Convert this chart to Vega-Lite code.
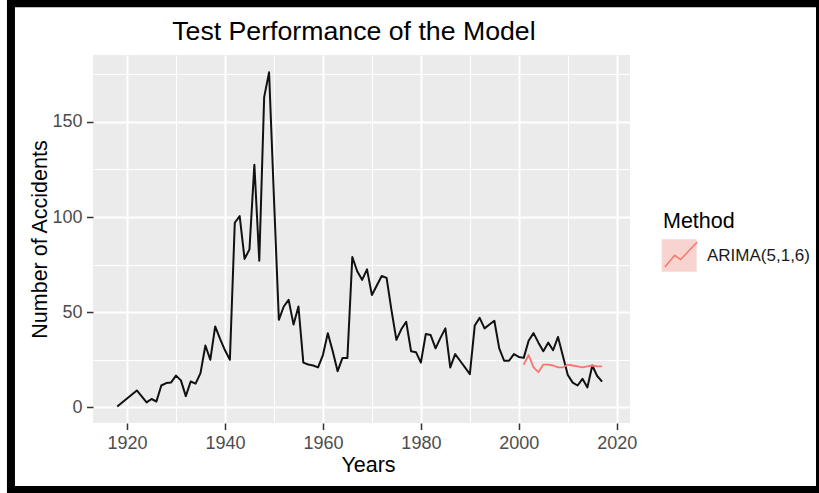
{
  "$schema": "https://vega.github.io/schema/vega-lite/v6.json",
  "width": 537,
  "height": 368,
  "autosize": {"type": "none"},
  "padding": {"left": 93, "top": 55, "right": 189, "bottom": 70},
  "background": "white",
  "config": {"view": {"fill": "#EBEBEB", "stroke": null}, "font": "Liberation Sans"},
  "title": {"text": "Test Performance of the Model", "fontSize": 26.7, "font": "Liberation Sans", "fontWeight": "normal", "color": "#000000", "anchor": "middle", "frame": "group", "baseline": "alphabetic", "offset": 0, "dy": 67.3, "dx": -7.6},
  "datasets": {
    "actual": [
      {"Year":1918,"Accidents":0.5},{"Year":1919,"Accidents":2.6},{"Year":1920,"Accidents":4.7},{"Year":1921,"Accidents":6.8},{"Year":1922,"Accidents":8.9},
      {"Year":1923,"Accidents":5.8},{"Year":1924,"Accidents":2.6},{"Year":1925,"Accidents":4.4},{"Year":1926,"Accidents":3.1},{"Year":1927,"Accidents":11.5},
      {"Year":1928,"Accidents":12.8},{"Year":1929,"Accidents":13.1},{"Year":1930,"Accidents":16.7},{"Year":1931,"Accidents":14.2},{"Year":1932,"Accidents":5.9},
      {"Year":1933,"Accidents":13.6},{"Year":1934,"Accidents":12.5},{"Year":1935,"Accidents":18},{"Year":1936,"Accidents":32.5},{"Year":1937,"Accidents":25},
      {"Year":1938,"Accidents":42.5},{"Year":1939,"Accidents":36},{"Year":1940,"Accidents":30},{"Year":1941,"Accidents":25},{"Year":1942,"Accidents":97},
      {"Year":1943,"Accidents":100.5},{"Year":1944,"Accidents":78},{"Year":1945,"Accidents":83},{"Year":1946,"Accidents":127.5},{"Year":1947,"Accidents":77},
      {"Year":1948,"Accidents":163},{"Year":1949,"Accidents":176},{"Year":1950,"Accidents":110},{"Year":1951,"Accidents":46},{"Year":1952,"Accidents":53},
      {"Year":1953,"Accidents":56.5},{"Year":1954,"Accidents":43.5},{"Year":1955,"Accidents":53},{"Year":1956,"Accidents":23.5},{"Year":1957,"Accidents":22.5},
      {"Year":1958,"Accidents":22},{"Year":1959,"Accidents":21},{"Year":1960,"Accidents":27.5},{"Year":1961,"Accidents":39},{"Year":1962,"Accidents":29.5},
      {"Year":1963,"Accidents":19},{"Year":1964,"Accidents":26},{"Year":1965,"Accidents":26},{"Year":1966,"Accidents":79},{"Year":1967,"Accidents":71.5},
      {"Year":1968,"Accidents":67},{"Year":1969,"Accidents":72.5},{"Year":1970,"Accidents":59},{"Year":1971,"Accidents":64},{"Year":1972,"Accidents":69},
      {"Year":1973,"Accidents":68},{"Year":1974,"Accidents":51},{"Year":1975,"Accidents":35.5},{"Year":1976,"Accidents":41},{"Year":1977,"Accidents":45},
      {"Year":1978,"Accidents":29.5},{"Year":1979,"Accidents":29},{"Year":1980,"Accidents":23.5},{"Year":1981,"Accidents":38.5},{"Year":1982,"Accidents":38},
      {"Year":1983,"Accidents":31},{"Year":1984,"Accidents":36.5},{"Year":1985,"Accidents":41.5},{"Year":1986,"Accidents":21},{"Year":1987,"Accidents":28},
      {"Year":1988,"Accidents":24.5},{"Year":1989,"Accidents":21},{"Year":1990,"Accidents":17.5},{"Year":1991,"Accidents":43},{"Year":1992,"Accidents":47},
      {"Year":1993,"Accidents":41.5},{"Year":1994,"Accidents":43.5},{"Year":1995,"Accidents":45.5},{"Year":1996,"Accidents":31},{"Year":1997,"Accidents":24.5},
      {"Year":1998,"Accidents":24.5},{"Year":1999,"Accidents":28},{"Year":2000,"Accidents":26.5},{"Year":2001,"Accidents":26},{"Year":2002,"Accidents":35},
      {"Year":2003,"Accidents":39},{"Year":2004,"Accidents":34},{"Year":2005,"Accidents":29.5},{"Year":2006,"Accidents":34},{"Year":2007,"Accidents":30},
      {"Year":2008,"Accidents":37},{"Year":2009,"Accidents":27},{"Year":2010,"Accidents":17},{"Year":2011,"Accidents":13},{"Year":2012,"Accidents":11.5},
      {"Year":2013,"Accidents":15},{"Year":2014,"Accidents":10.5},{"Year":2015,"Accidents":22},{"Year":2016,"Accidents":16.5},{"Year":2017,"Accidents":13.5}
    ],
    "forecast": [
      {"Year":2001,"Accidents":22.5,"Method":"ARIMA(5,1,6)"},{"Year":2002,"Accidents":27.5,"Method":"ARIMA(5,1,6)"},{"Year":2003,"Accidents":21,"Method":"ARIMA(5,1,6)"},
      {"Year":2004,"Accidents":18.5,"Method":"ARIMA(5,1,6)"},{"Year":2005,"Accidents":22.5,"Method":"ARIMA(5,1,6)"},{"Year":2006,"Accidents":22.5,"Method":"ARIMA(5,1,6)"},
      {"Year":2007,"Accidents":22,"Method":"ARIMA(5,1,6)"},{"Year":2008,"Accidents":21,"Method":"ARIMA(5,1,6)"},{"Year":2009,"Accidents":21,"Method":"ARIMA(5,1,6)"},
      {"Year":2010,"Accidents":22.5,"Method":"ARIMA(5,1,6)"},{"Year":2011,"Accidents":22,"Method":"ARIMA(5,1,6)"},{"Year":2012,"Accidents":21.5,"Method":"ARIMA(5,1,6)"},
      {"Year":2013,"Accidents":21,"Method":"ARIMA(5,1,6)"},{"Year":2014,"Accidents":21.5,"Method":"ARIMA(5,1,6)"},{"Year":2015,"Accidents":22,"Method":"ARIMA(5,1,6)"},
      {"Year":2016,"Accidents":21.5,"Method":"ARIMA(5,1,6)"},{"Year":2017,"Accidents":21.5,"Method":"ARIMA(5,1,6)"}
    ]
  },
  "layer": [
    {
      "data": {"name": "actual"},
      "mark": {"type": "line", "color": "#111111", "strokeWidth": 2, "strokeJoin": "round"},
      "encoding": {
        "x": {
          "field": "Year", "type": "quantitative",
          "scale": {"domain": [1913.05, 2022.7], "nice": false, "zero": false},
          "axis": {
            "title": "Years", "values": [1920,1930,1940,1950,1960,1970,1980,1990,2000,2010,2020],
            "format": "d", "labelExpr": "datum.value % 20 === 0 ? datum.label : ''",
            "domain": false, "grid": true, "gridColor": "#FFFFFF",
            "gridWidth": {"condition": {"test": "datum.value % 20 === 0", "value": 2}, "value": 1.1},
            "tickOpacity": {"condition": {"test": "datum.value % 20 === 0", "value": 1}, "value": 0},
            "tickColor": "#333333", "tickSize": 6.5, "tickWidth": 1.5,
            "labelColor": "#4D4D4D", "labelFontSize": 18, "labelPadding": 5, "labelFont": "Liberation Sans",
            "labelFlush": false, "labelOverlap": false,
            "titleFont": "Liberation Sans", "titleFontSize": 21.5, "titleFontWeight": "normal", "titleColor": "#000000",
            "titleX": 275, "titleY": 48.7, "titleBaseline": "alphabetic", "titleAlign": "center"
          }
        },
        "y": {
          "field": "Accidents", "type": "quantitative",
          "scale": {"domain": [-8.2, 185.1], "nice": false, "zero": false},
          "axis": {
            "title": "Number of Accidents", "values": [0,25,50,75,100,125,150,175],
            "format": "d", "labelExpr": "datum.value % 50 === 0 ? datum.label : ''",
            "domain": false, "grid": true, "gridColor": "#FFFFFF",
            "gridWidth": {"condition": {"test": "datum.value % 50 === 0", "value": 2}, "value": 1.1},
            "tickOpacity": {"condition": {"test": "datum.value % 50 === 0", "value": 1}, "value": 0},
            "tickColor": "#333333", "tickSize": 6.5, "tickWidth": 1.5,
            "labelColor": "#4D4D4D", "labelFontSize": 18, "labelPadding": 4.5, "labelFont": "Liberation Sans",
            "labelFlush": false, "labelOverlap": false,
            "titleFont": "Liberation Sans", "titleFontSize": 21.5, "titleFontWeight": "normal", "titleColor": "#000000",
            "titleX": -46.5, "titleY": 184, "titleAngle": 270, "titleBaseline": "alphabetic", "titleAlign": "center"
          }
        }
      }
    },
    {
      "data": {"name": "forecast"},
      "mark": {"type": "point", "opacity": 0, "filled": true, "strokeWidth": 0},
      "encoding": {
        "x": {"field": "Year", "type": "quantitative"},
        "y": {"field": "Accidents", "type": "quantitative"},
        "fill": {
          "field": "Method", "type": "nominal",
          "scale": {"range": ["#F8D4D0"]},
          "legend": {
            "title": null, "orient": "none", "legendX": 568.7, "legendY": 183,
            "symbolType": "M-1,-0.925H1V0.925H-1Z", "symbolSize": 1225, "symbolOpacity": 1,
            "symbolStrokeWidth": 0, "labelExpr": "''", "padding": 0, "zindex": 0
          }
        }
      }
    },
    {
      "data": {"name": "forecast"},
      "mark": {"type": "line", "strokeWidth": 1.8, "strokeJoin": "round"},
      "encoding": {
        "x": {"field": "Year", "type": "quantitative"},
        "y": {"field": "Accidents", "type": "quantitative"},
        "stroke": {
          "field": "Method", "type": "nominal",
          "scale": {"range": ["#F8766D"]},
          "legend": {
            "title": "Method", "orient": "none", "legendX": 570, "legendY": 156.3,
            "titleFont": "Liberation Sans", "titleFontSize": 21.5, "titleFontWeight": "normal", "titleColor": "#000000",
            "titlePadding": 5,
            "symbolType": "M-0.95,0.66L-0.37,-0.03L-0.02,0.22L0.95,-0.81", "symbolSize": 1156,
            "symbolStrokeWidth": 1.5, "symbolFillColor": "transparent",
            "labelFont": "Liberation Sans", "labelFontSize": 17, "labelColor": "#1A1A1A", "labelOffset": 8,
            "padding": 0, "zindex": 1
          }
        }
      }
    },
    {
      "data": {"values": [{}]},
      "mark": {"type": "rect", "fill": "transparent", "stroke": "#000000", "strokeWidth": 8},
      "encoding": {
        "x": {"datum": 1896.3, "type": "quantitative"},
        "x2": {"datum": 2061.5},
        "y": {"datum": 212.3, "type": "quantitative"},
        "y2": {"datum": -43.4}
      }
    }
  ]
}
